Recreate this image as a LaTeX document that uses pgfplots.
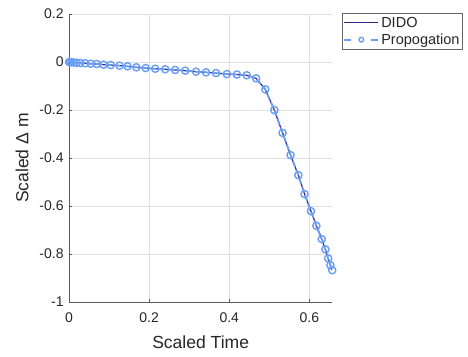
\documentclass[border=0pt]{standalone}
\usepackage{fontspec}
\setmainfont{Liberation Sans}
\usepackage{pgfplots}
\pgfplotsset{compat=1.18}
\usepackage{pgfplotstable}

\definecolor{didocol}{rgb}{0.24,0.12,0.52}
\definecolor{propcol}{rgb}{0.42,0.62,0.96}
\definecolor{axcol}{rgb}{0.15,0.15,0.15}

% scaled time vs scaled mass change
\pgfplotstableread{
t       dm
0       0
0.002  -0.0005
0.006  -0.001
0.012  -0.002
0.019  -0.003
0.028  -0.004
0.040  -0.005
0.054  -0.007
0.069  -0.008
0.086  -0.011
0.104  -0.0125
0.126  -0.015
0.146  -0.018
0.168  -0.022
0.191  -0.025
0.215  -0.028
0.240  -0.030
0.265  -0.033
0.290  -0.036
0.317  -0.040
0.342  -0.043
0.367  -0.046
0.394  -0.050
0.419  -0.052
0.4435 -0.055
0.467  -0.068
0.490  -0.114
0.5125 -0.200
0.533  -0.295
0.553  -0.3875
0.5725 -0.471
0.588  -0.550
0.604  -0.621
0.6175 -0.682
0.631  -0.7375
0.640  -0.780
0.647  -0.818
0.6525 -0.846
0.657  -0.867
}\dmtable

\begin{document}
\begin{tikzpicture}
\useasboundingbox (-69bp,-54.3bp) rectangle (398.3bp,301.7bp);
\begin{axis}[
  at={(0,0)}, anchor=south west,
  scale only axis,
  width=262.7bp, height=287.7bp,
  xmin=0, xmax=0.657, ymin=-1, ymax=0.2,
  xtick={0,0.2,0.4,0.6},
  ytick={-1,-0.8,-0.6,-0.4,-0.2,0,0.2},
  axis x line*=bottom, axis y line*=left,
  axis line style={-, draw=axcol!75, line width=0.6bp},
  tick align=inside,
  major tick length=3bp,
  tick style={draw=axcol!75, line width=0.5bp},
  grid=major,
  major grid style={draw=black!12, line width=0.5bp},
  /pgf/number format/assume math mode=true,
  ticklabel style={font=\fontsize{14bp}{16bp}\selectfont, text=axcol},
  xticklabel style={yshift=-7bp},
  yticklabel style={xshift=-2bp},
  xlabel={Scaled Time},
  ylabel={Scaled Δ m},
  label style={font=\fontsize{17.5bp}{20bp}\selectfont, text=axcol},
  xlabel style={yshift=-6bp},
  ylabel style={yshift=4bp},
  legend cell align=left,
  legend style={at={(1.038,1.0024)}, anchor=north west,
    draw=black!60,
    font=\fontsize{14.5bp}{16bp}\selectfont, text=axcol,
    inner xsep=1bp, inner ysep=1.5bp, row sep=1bp},
  legend image code/.code={%
    \draw[mark repeat=2, mark phase=2, mark size=2.3bp, #1]
      plot coordinates {(0cm,0cm) (0.6cm,0cm) (1.2cm,0cm)};},
]
\addplot[color=didocol, draw=didocol, line width=1.2bp, no markers]
  table[x=t, y=dm] {\dmtable};
\addlegendentry{DIDO}
\addplot[color=propcol, draw=propcol, line width=1.8bp,
  dash pattern=on 6bp off 3bp,
  mark=o, mark size=3.6bp, mark options={solid, line width=1.4bp},
  legend image post style={dash pattern=on 7bp off 20bp}]
  table[x=t, y=dm] {\dmtable};
\addlegendentry{Propogation}
\end{axis}
\end{tikzpicture}
\end{document}
